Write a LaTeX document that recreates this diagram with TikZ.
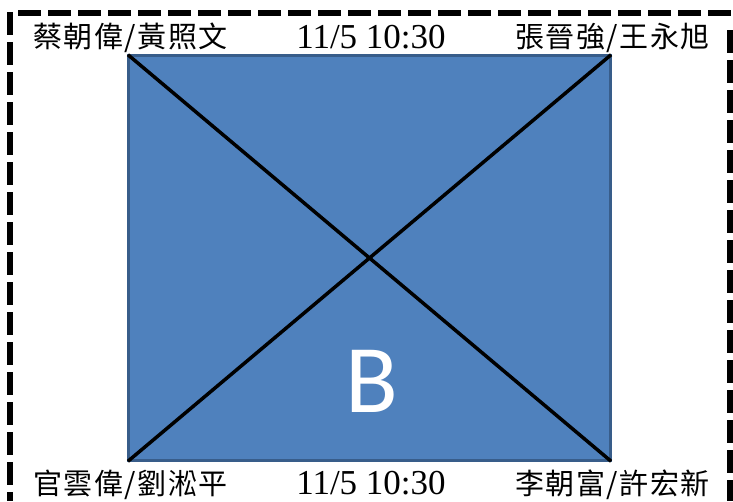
\documentclass[tikz,border=0pt]{standalone}
\usepackage{fontspec}
\setmainfont{Liberation Serif}
\newfontfamily\cjk[LetterSpace=5]{Noto Sans CJK TC}
\newfontfamily\calib{Carlito}
\usetikzlibrary{positioning}
\definecolor{boardblue}{HTML}{4F81BD}
\definecolor{boardedge}{HTML}{385D8A}

\begin{document}
\begin{tikzpicture}[x=1pt, y=-1pt, every node/.style={inner sep=0pt},
        names/.style={font=\cjk\fontsize{29}{29}\selectfont, anchor=base},
        stamp/.style={font=\fontsize{35}{35}\selectfont, anchor=base},
        frame/.style={line width=6pt, dash pattern=on 23pt off 7pt}]
        \useasboundingbox (0,0) rectangle (733,501);

        % dashed outer frame
        \draw[frame] (18,13) -- (733,13);
        \draw[frame] (10,12) -- (10,501);
        \draw[frame] (730,30) -- (730,501);

        \node[draw=boardedge, line width=3.5pt, fill=boardblue, minimum width=482pt, minimum height=405pt] (board) at (369.5,258) {};
        \draw[line width=3.5pt, shorten <=1.5pt, shorten >=1.5pt] (board.north west) -- (board.south east);
        \draw[line width=3.5pt, shorten <=1.5pt, shorten >=1.5pt] (board.north east) -- (board.south west);
        \node[font=\calib\fontsize{97}{97}\selectfont, text=white, anchor=base] (label) at (372,412) {B};

        \node[names] (tl) at (130.5,47) {蔡朝偉/黃照文};
        \node[stamp] (tm) at (371,48) {11/5 10:30};
        \node[names] (tr) at (612.5,47) {張晉強/王永旭};

        \node[names] (bl) at (130.5,494) {官雲偉/劉淞平};
        \node[stamp] (bm) at (371,494) {11/5 10:30};
        \node[names] (br) at (612.5,494) {李朝富/許宏新};
      \end{tikzpicture}
\end{document}
